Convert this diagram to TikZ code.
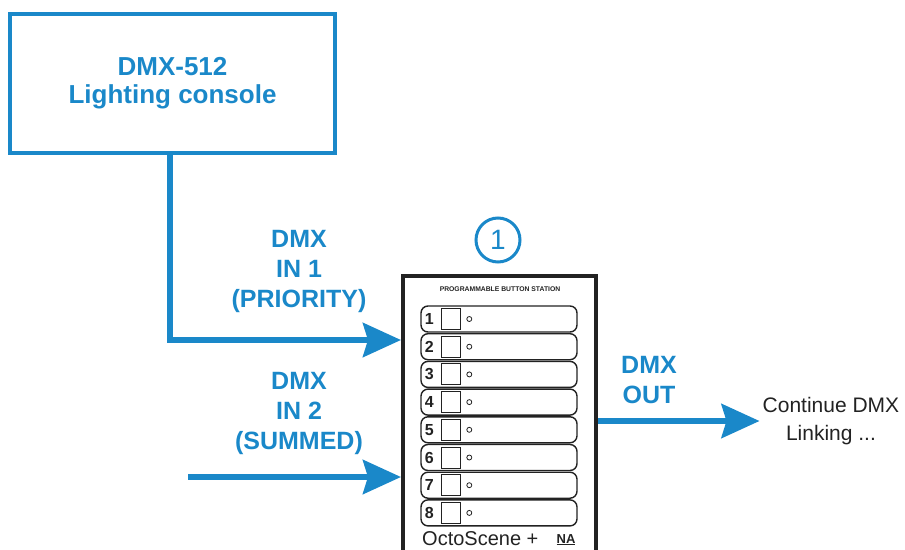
\documentclass[tikz,border=0pt]{standalone}
\usepackage{fontspec}
\setmainfont{Liberation Sans}
\usetikzlibrary{arrows.meta}
\definecolor{DmxBlue}{HTML}{1A88C9}
\definecolor{NiceBlack}{HTML}{222222}
\tikzset{
  box/.style={draw=NiceBlack, line width=3.5pt, rectangle, inner sep=0pt},
  dmxline/.style={DmxBlue, line width=6pt, -{Stealth[length=38pt, width=34pt, inset=5pt]}},
  dmxlabel/.style={DmxBlue, font=\fontsize{25}{30}\selectfont\bfseries, align=center, inner sep=0pt},
  buttonrow/.style={draw=NiceBlack, line width=1.4pt, rounded corners=7pt,
    minimum width=156pt, minimum height=26pt, inner sep=0pt},
  digit/.style={NiceBlack, font=\fontsize{16}{16}\selectfont\bfseries, inner sep=0pt},
  key/.style={draw=NiceBlack, line width=1pt, minimum width=19pt, minimum height=21pt, inner sep=0pt},
  lamp/.style={draw=NiceBlack, line width=0.8pt, circle, minimum size=5pt, inner sep=0pt}
}
\begin{document}
\begin{tikzpicture}[x=1pt, y=-1pt]
      \useasboundingbox (0,0) rectangle (905,549);
      \clip (0,0) rectangle (905,549);
      % Console
      \node[box, minimum width=325pt, minimum height=139pt, align=center, DmxBlue,
      font=\fontsize{26}{28}\selectfont\bfseries] (console) at (172.5,83.5)
      {DMX-512\\Lighting console};
      % Button station
      \node[box, line width=4pt, minimum width=193pt, minimum height=290pt] (station)
      at (499.5,421) {};
      \node[NiceBlack, font=\fontsize{6.8}{7}\selectfont\bfseries, inner sep=0pt] (title)
      at (500,289) {PROGRAMMABLE BUTTON STATION};
      \foreach \i in {1,...,8} {
        \pgfmathsetmacro{\ypos}{319+27.7*(\i-1)}
        \node[buttonrow] (row\i) at (499,\ypos) {};
        \node[digit] (num\i) at ([xshift=9pt]row\i.west) {\i};
        \node[key] (key\i) at ([xshift=30.5pt]row\i.west) {};
        \node[lamp] (lamp\i) at ([xshift=49pt]row\i.west) {};
      }
      \node[NiceBlack, font=\fontsize{20}{20}\selectfont, anchor=base west, inner sep=0pt]
      (brand) at (422,545) {OctoScene +};
      \node[NiceBlack, font=\fontsize{13}{13}\selectfont\bfseries\rmfamily, anchor=base,
      inner sep=0pt] (logo) at (566,543) {\underline{NA}};
      % Unit number
      \node[draw=DmxBlue, line width=3pt, circle, minimum size=44pt, inner sep=0pt,
      DmxBlue, font=\fontsize{28}{28}\selectfont] (unit) at (498,240) {1};
      % Labels
      \node[dmxlabel, anchor=base] (in1label) at (299,307) {DMX\\IN 1\\(PRIORITY)};
      \node[dmxlabel, anchor=base] (in2label) at (299,449) {DMX\\IN 2\\(SUMMED)};
      \node[dmxlabel, anchor=base] (outlabel) at (649,403) {DMX\\OUT};
      \node[NiceBlack, font=\fontsize{21}{28}\selectfont, align=center, inner sep=3pt]
      (next) at (831,421) {Continue DMX\\Linking ...};
      % Connectors
      \coordinate (in1) at (station.west |- 0,340);
      \coordinate (in2) at (188,477);
      \draw[dmxline] (console.south -| 170,0) |- (in1);
      \draw[dmxline] (in2) -- (station.west |- in2);
      \draw[dmxline] (station.east) -- (next.west);
    \end{tikzpicture}
\end{document}
